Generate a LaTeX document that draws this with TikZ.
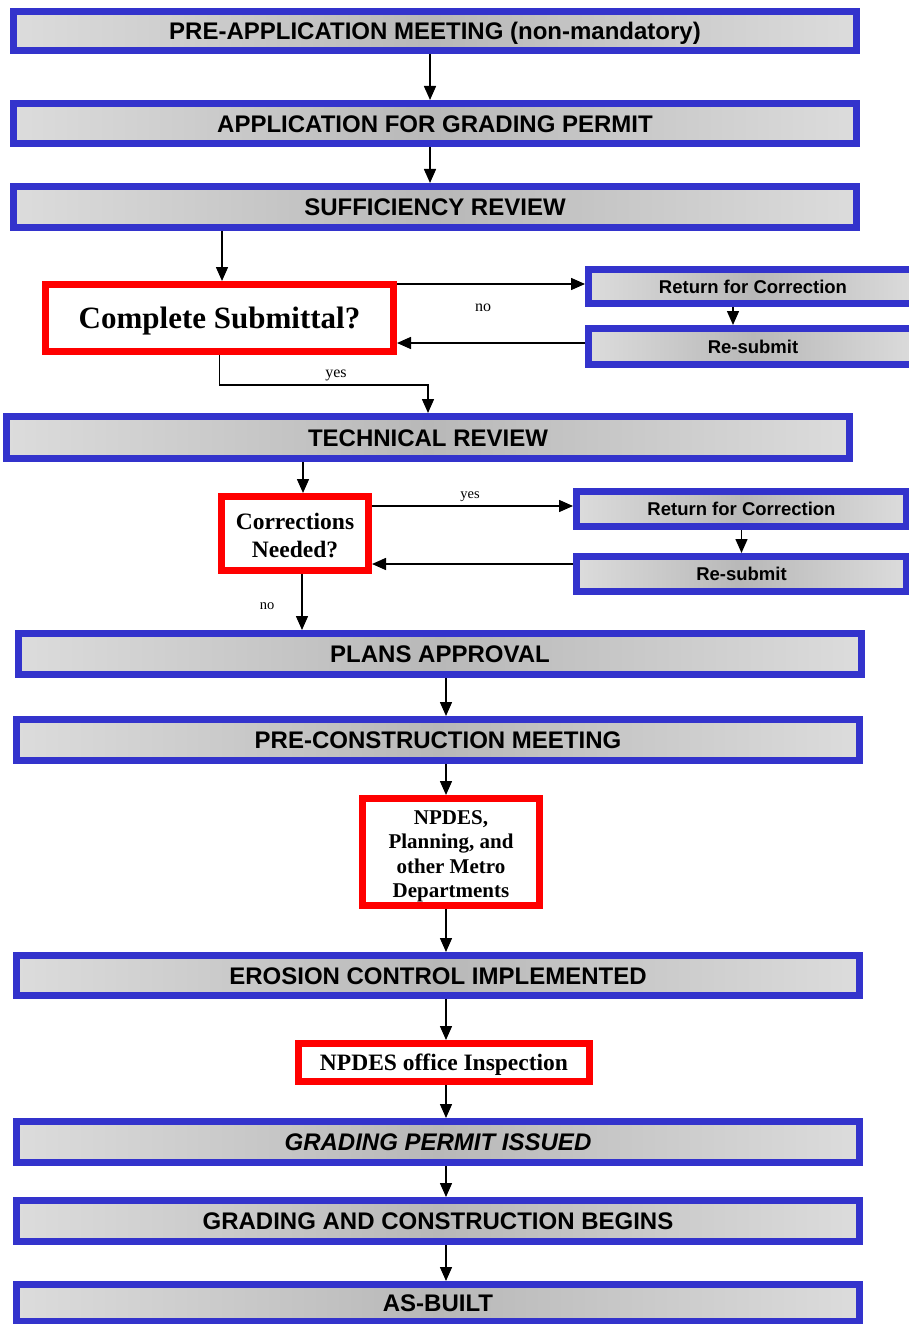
\documentclass[tikz,border=0pt]{standalone}
\usepackage{fontspec}
\setmainfont{Liberation Serif}
\setsansfont{Liberation Sans}
\usetikzlibrary{arrows.meta}
\definecolor{boxblue}{HTML}{3333CC}
\definecolor{boxred}{HTML}{FF0000}
\definecolor{shadeedge}{HTML}{DCDCDC}
\definecolor{shademid}{HTML}{B8B8B8}
\begin{document}
\begin{tikzpicture}[x=1pt,y=-1pt,
  bluebox/.style={draw=boxblue, line width=7pt, left color=shadeedge, right color=shadeedge, middle color=shademid, inner sep=0pt, text height=17.2pt, text depth=0pt, font=\sffamily\bfseries\fontsize{24}{28}\selectfont},
  bigbox/.style={bluebox, minimum width=843pt},
  smallbox/.style={bluebox, text height=13.2pt, font=\sffamily\bfseries\fontsize{18.5}{22}\selectfont},
  redbox/.style={draw=boxred, line width=7pt, fill=white, inner sep=0pt, align=center, text depth=0pt, font=\bfseries},
  arr/.style={line width=1.5pt, -{Triangle[length=14pt,width=12pt]}},
  lbl/.style={inner sep=0pt, font=\fontsize{16}{18}\selectfont},
  slbl/.style={inner sep=0pt, font=\fontsize{14.5}{17}\selectfont}
]
\useasboundingbox (0,0) rectangle (908,1324);

\node[bigbox, minimum height=39pt] (pre) at (435,31) {PRE-APPLICATION MEETING (non-mandatory)};
\node[bigbox, minimum height=40pt] (app) at (435,123.5) {APPLICATION FOR GRADING PERMIT};
\node[bigbox, minimum height=41pt] (suff) at (435,207) {SUFFICIENCY REVIEW};
\node[redbox, minimum width=348pt, minimum height=67pt, text height=20.5pt, font=\bfseries\fontsize{31}{34}\selectfont] (cs) at (219.5,318) {Complete Submittal?};
\node[smallbox, minimum width=329pt, minimum height=34pt] (ret1) at (753,286.5) {Return for Correction};
\node[smallbox, minimum width=329pt, minimum height=36pt] (res1) at (753,346.5) {Re-submit};
\node[bigbox, minimum height=42pt] (tech) at (428,437.5) {TECHNICAL REVIEW};
\node[redbox, minimum width=147pt, minimum height=74pt, text height=47pt, font=\bfseries\fontsize{23.5}{28}\selectfont] (cn) at (295,533.5) {Corrections\\Needed?};
\node[smallbox, minimum width=330pt, minimum height=35pt] (ret2) at (741.5,509) {Return for Correction};
\node[smallbox, minimum width=330pt, minimum height=35pt] (res2) at (741.5,574) {Re-submit};
\node[bigbox, minimum height=41pt] (plans) at (440,654) {PLANS APPROVAL};
\node[bigbox, minimum height=41pt] (precon) at (438,740) {PRE-CONSTRUCTION MEETING};
\node[redbox, minimum width=177pt, minimum height=107pt, text height=91.5pt, font=\bfseries\fontsize{21}{24.5}\selectfont] (npdes) at (451,852) {NPDES,\\Planning, and\\other Metro\\Departments};
\node[bigbox, minimum height=40pt] (erosion) at (438,975.5) {EROSION CONTROL IMPLEMENTED};
\node[redbox, minimum width=291pt, minimum height=38pt, text height=15.6pt, font=\bfseries\fontsize{23.5}{26}\selectfont] (office) at (444,1062.5) {NPDES office Inspection};
\node[bigbox, minimum height=41pt, font=\sffamily\bfseries\itshape\fontsize{24}{28}\selectfont] (permit) at (438,1142) {GRADING PERMIT ISSUED};
\node[bigbox, minimum height=41pt] (begins) at (438,1221) {GRADING AND CONSTRUCTION BEGINS};
\node[bigbox, minimum height=37pt] (asbuilt) at (438,1303) {AS-BUILT};

\coordinate (xa) at (430,0);
\coordinate (xb) at (222,0);
\coordinate (xc) at (733,0);
\coordinate (xd) at (303,0);
\coordinate (xf) at (302,0);
\coordinate (xg) at (446,0);
\coordinate (ya) at (0,284);
\coordinate (yb) at (0,343);
\coordinate (yc) at (0,506);
\coordinate (yd) at (0,564);

\draw[arr] (pre.south -| xa) -- (app.north -| xa);
\draw[arr] (app.south -| xa) -- (suff.north -| xa);
\draw[arr] (suff.south -| xb) -- (cs.north -| xb);
\draw[arr] (cs.east |- ya) -- (ret1.west |- ya);
\draw[arr] (res1.west |- yb) -- (cs.east |- yb);
\draw[arr] (ret1.south -| xc) -- (res1.north -| xc);
\draw[arr] (cs.south) -- ++(0,30) -| (tech.north);
\draw[arr] (tech.south -| xd) -- (cn.north -| xd);
\draw[arr] (cn.east |- yc) -- (ret2.west |- yc);
\draw[arr] (res2.west |- yd) -- (cn.east |- yd);
\draw[arr] (ret2.south) -- (res2.north);
\draw[arr] (cn.south -| xf) -- (plans.north -| xf);
\draw[arr] (plans.south -| xg) -- (precon.north -| xg);
\draw[arr] (precon.south -| xg) -- (npdes.north -| xg);
\draw[arr] (npdes.south -| xg) -- (erosion.north -| xg);
\draw[arr] (erosion.south -| xg) -- (office.north -| xg);
\draw[arr] (office.south -| xg) -- (permit.north -| xg);
\draw[arr] (permit.south -| xg) -- (begins.north -| xg);
\draw[arr] (begins.south -| xg) -- (asbuilt.north -| xg);

\node[lbl] (lno1) at (483,308) {no};
\node[lbl] (lyes1) at (336,375) {yes};
\node[slbl] (lyes2) at (470,497) {yes};
\node[slbl] (lno2) at (267,606) {no};
\end{tikzpicture}
\end{document}
